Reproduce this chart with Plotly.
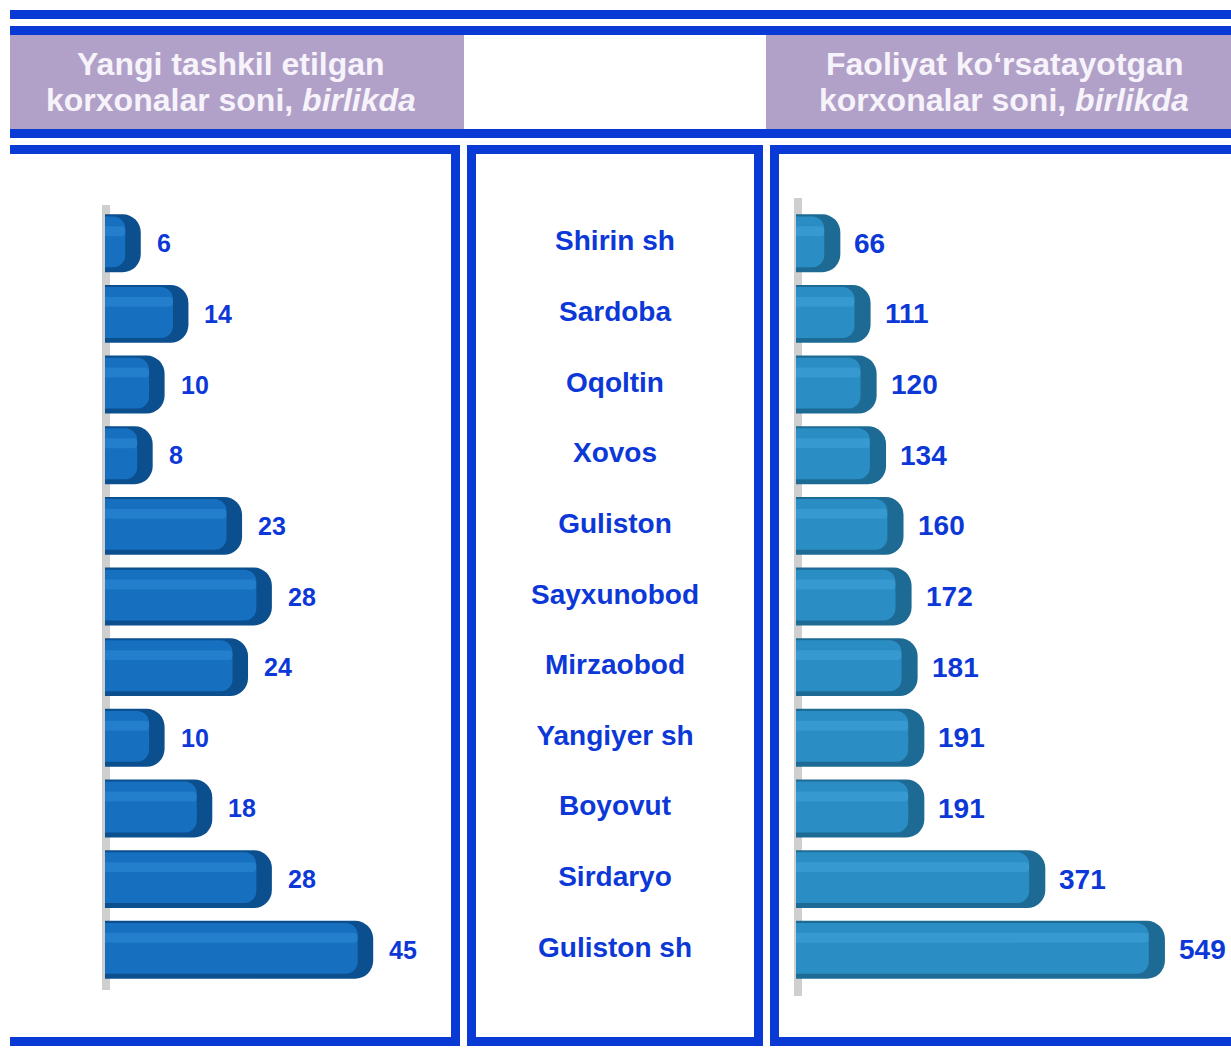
import plotly.graph_objects as go

# District names (top to bottom)
districts = ["Shirin sh", "Sardoba", "Oqoltin", "Xovos", "Guliston", "Sayxunobod",
             "Mirzaobod", "Yangiyer sh", "Boyovut", "Sirdaryo", "Guliston sh"]

# Newly established enterprises, units
new_enterprises = [6, 14, 10, 8, 23, 28, 24, 10, 18, 28, 45]

# Operating enterprises, units
active_enterprises = [66, 111, 120, 134, 160, 172, 181, 191, 191, 371, 549]

header_left = ["Yangi tashkil etilgan", "korxonalar soni, <i>birlikda</i>"]
header_right = ["Faoliyat ko‘rsatayotgan", "korxonalar soni, <i>birlikda</i>"]

W, H = 1231, 1052
BLUE = "#0a3ad6"
LAVENDER = "#b1a1c8"
TEXT_BLUE = "#0c38d8"
FONT = "Liberation Sans, Arial, sans-serif"


def px_x(p):
    return p / W


def px_y(p):
    return 1 - p / H


def rect(x0, y0, x1, y1, color, layer="above"):
    return dict(type="rect", xref="paper", yref="paper",
                x0=px_x(x0), x1=px_x(x1), y0=px_y(y1), y1=px_y(y0),
                fillcolor=color, line=dict(width=0), layer=layer)


fig = go.Figure()


def add_3d_bars(values, xaxis, dark, main, light, cap):
    # dark shell with rounded end
    fig.add_trace(go.Bar(
        orientation="h", x=values, y=districts, xaxis=xaxis, yaxis="y",
        width=0.82, marker=dict(color=dark, cornerradius=18, line=dict(width=0)),
        hoverinfo="skip", showlegend=False))
    # main face, leaving the darker end cap visible
    fig.add_trace(go.Bar(
        orientation="h", x=[v - cap for v in values], y=districts, xaxis=xaxis, yaxis="y",
        width=0.72, offset=-0.38,
        marker=dict(color=main, cornerradius=12, line=dict(width=0)),
        hoverinfo="skip", showlegend=False))
    # soft highlight band near the top of the bar
    fig.add_trace(go.Bar(
        orientation="h", x=[v - cap for v in values], y=districts, xaxis=xaxis, yaxis="y",
        width=0.14, offset=-0.24,
        marker=dict(color=light, opacity=0.35, cornerradius=6, line=dict(width=0)),
        hoverinfo="skip", showlegend=False))


add_3d_bars(new_enterprises, "x", "#0b4f8f", "#1770bf", "#3a98e2", 2.6)
add_3d_bars(active_enterprises, "x3", "#1d6b94", "#2a8ec5", "#4cb0e2", 24)

# district names in the middle column
fig.add_trace(go.Scatter(
    x=[0] * len(districts), y=districts, xaxis="x2", yaxis="y",
    mode="text", text=districts, textposition="middle center",
    textfont=dict(family=FONT, size=28, color=TEXT_BLUE, weight="bold"),
    hoverinfo="skip", showlegend=False))

annotations = []
for d, v in zip(districts, new_enterprises):
    annotations.append(dict(x=v, y=d, xref="x", yref="y", text=str(v), showarrow=False,
                            xanchor="left", xshift=14,
                            font=dict(family=FONT, size=25, color=TEXT_BLUE, weight="bold")))
for d, v in zip(districts, active_enterprises):
    annotations.append(dict(x=v, y=d, xref="x3", yref="y", text=str(v), showarrow=False,
                            xanchor="left", xshift=12,
                            font=dict(family=FONT, size=28, color=TEXT_BLUE, weight="bold")))

# header captions, one annotation per line for tight line spacing
for cx, lines in ((231, header_left), (1004, header_right)):
    for cy, txt in zip((64, 100), lines):
        annotations.append(dict(x=px_x(cx), y=px_y(cy), xref="paper", yref="paper",
                                xanchor="center", yanchor="middle",
                                text=txt, showarrow=False,
                                font=dict(family=FONT, size=32, color="#f7f3fb",
                                          weight="bold")))

shapes = [
    # header band
    rect(10, 35, 464, 129, LAVENDER, "below"),
    rect(766, 35, 1231, 129, LAVENDER, "below"),
    rect(10, 10, 1231, 19, BLUE),
    rect(10, 26, 1231, 35, BLUE),
    rect(10, 129, 1231, 138, BLUE),
    # left panel frame
    rect(10, 145, 460, 154, BLUE),
    rect(451, 145, 460, 1046, BLUE),
    rect(10, 1037, 460, 1046, BLUE),
    # middle panel frame
    rect(467, 145, 763, 154, BLUE),
    rect(467, 145, 476, 1046, BLUE),
    rect(754, 145, 763, 1046, BLUE),
    rect(467, 1037, 763, 1046, BLUE),
    # right panel frame
    rect(770, 145, 1231, 154, BLUE),
    rect(770, 145, 779, 1046, BLUE),
    rect(770, 1037, 1231, 1046, BLUE),
    # grey base walls behind the bars
    rect(102, 205, 110, 990, "#cfcfcf", "below"),
    rect(794, 198, 802, 996, "#cfcfcf", "below"),
]

y_top, y_bot = 204, 989

fig.update_layout(
    width=W, height=H,
    margin=dict(l=0, r=0, t=0, b=0),
    paper_bgcolor="white", plot_bgcolor="rgba(0,0,0,0)",
    barmode="overlay",
    showlegend=False,
    shapes=shapes,
    annotations=annotations,
    yaxis=dict(domain=[px_y(y_bot), px_y(y_top)], type="category",
               categoryorder="array", categoryarray=districts,
               autorange="reversed", visible=False, fixedrange=True),
    xaxis=dict(domain=[px_x(105), px_x(451)], range=[0, 346 / 5.96],
               visible=False, fixedrange=True),
    xaxis2=dict(domain=[px_x(476), px_x(754)], range=[-1, 1],
                visible=False, fixedrange=True),
    xaxis3=dict(domain=[px_x(796), px_x(1231)], range=[0, 435 / 0.672],
                visible=False, fixedrange=True),
)

fig.write_html("out.html")
